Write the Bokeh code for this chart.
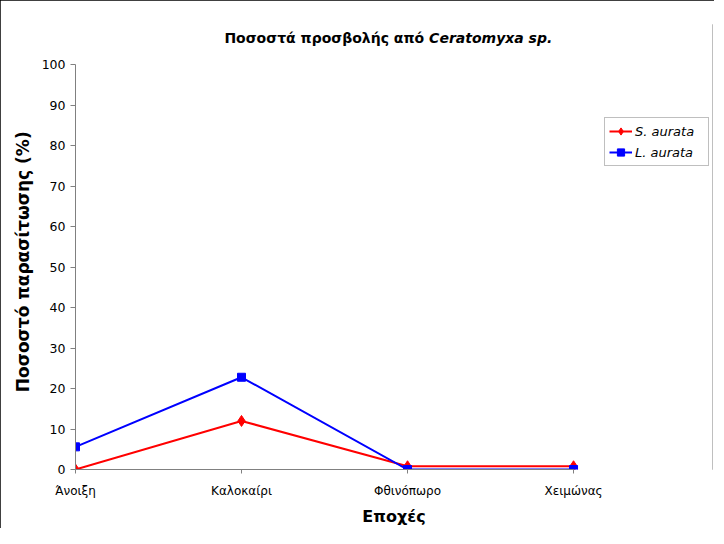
from bokeh.plotting import figure
from bokeh.models import Range1d, FixedTicker, Legend, LegendItem, Label
from bokeh.embed import file_html
from bokeh.resources import INLINE

seasons = ["Άνοιξη", "Καλοκαίρι", "Φθινόπωρο", "Χειμώνας"]
s_aurata = [0, 12, 0.8, 0.8]
l_aurata = [5.6, 22.8, 0, 0]
y_ticks = list(range(0, 101, 10))

title_main = "Ποσοστά προσβολής από"
title_species = "Ceratomyxa sp."
x_title = "Εποχές"
y_title = "Ποσοστό παρασίτωσης (%)"

xs = list(range(len(seasons)))

# frame extends right/up so the legend and title (inside the frame) are not clipped;
# axes are bounded to the data extent.
p = figure(width=714, height=528, x_range=Range1d(0, 3.837),
           y_range=Range1d(0, 110), output_backend="svg", toolbar_location=None,
           min_border_left=75, min_border_right=2, min_border_top=24,
           min_border_bottom=56)
p.styles = {"outline": "2px solid black", "outline-offset": "-2px"}
p.xgrid.visible = False
p.ygrid.visible = False
p.outline_line_color = None

FONT = "DejaVu Sans"
for ax in (p.xaxis[0], p.yaxis[0]):
    ax.axis_line_color = "#808080"
    ax.major_tick_line_color = "#808080"
    ax.minor_tick_line_color = None
    ax.major_tick_in = 0
    ax.major_label_text_font = FONT
    ax.major_label_text_color = "black"
    ax.axis_label_text_font = FONT
    ax.axis_label_text_font_style = "bold"
    ax.axis_label_text_color = "black"

p.yaxis.ticker = FixedTicker(ticks=y_ticks)
p.yaxis.bounds = (y_ticks[0], y_ticks[-1])
p.yaxis.major_tick_out = 5
p.yaxis.major_label_standoff = 5
p.yaxis.major_label_text_font_size = "12.5px"
# trailing no-break spaces shift the centred label down to the axis middle
p.yaxis.axis_label = y_title + "\u00a0" * 5
p.yaxis.axis_label_text_font_size = "17px"
p.yaxis.axis_label_standoff = 6

p.xaxis.ticker = FixedTicker(ticks=xs)
p.xaxis.bounds = (xs[0], xs[-1])
p.xaxis.major_label_overrides = {i: s for i, s in enumerate(seasons)}
p.xaxis.major_label_text_font_size = "12px"
p.xaxis.major_tick_out = 4
p.xaxis.major_label_standoff = 10
p.xaxis.axis_label = x_title
p.xaxis.axis_label_text_font_size = "16px"
p.xaxis.axis_label_standoff = 6

r1 = p.line(xs, s_aurata, line_color="#FF0000", line_width=2)
m1 = p.scatter(xs, s_aurata, marker="diamond", size=11, color="#FF0000")
r2 = p.line(xs, l_aurata, line_color="#0000FF", line_width=2)
m2 = p.scatter(xs, l_aurata, marker="square", size=8, color="#0000FF")

legend = Legend(items=[LegendItem(label="S. aurata", renderers=[r1, m1]),
                       LegendItem(label="L. aurata", renderers=[r2, m2])],
                location=(529, 303), margin=0, padding=4, spacing=3,
                border_line_color="#808080", border_line_width=1,
                label_text_font=FONT, label_text_font_style="italic",
                label_text_font_size="13px", label_text_color="black",
                glyph_width=23, glyph_height=18, label_width=69,
                label_height=18, label_standoff=3, background_fill_alpha=1)
p.add_layout(legend, "center")

p.add_layout(Label(x=2.10, y=106.6, text=title_main, text_font=FONT,
                   text_font_style="bold", text_font_size="14px",
                   text_color="black", text_align="right",
                   text_baseline="middle"))
p.add_layout(Label(x=2.13, y=106.6, text=title_species, text_font=FONT,
                   text_font_style="bold italic", text_font_size="14px",
                   text_color="black", text_align="left",
                   text_baseline="middle"))

open("out.html", "w").write(file_html(p, INLINE))
